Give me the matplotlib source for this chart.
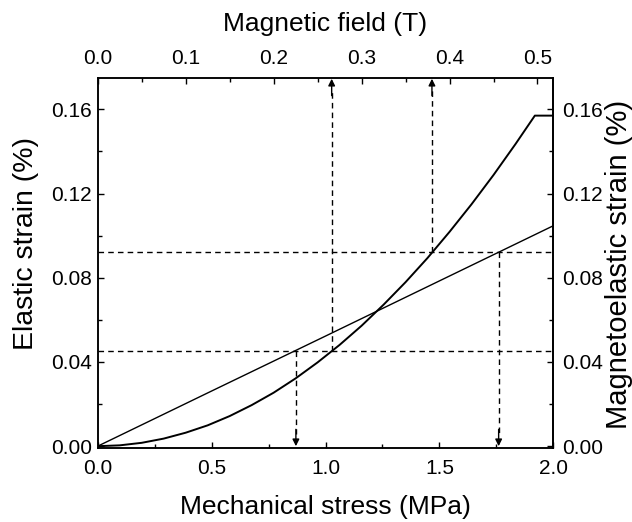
import matplotlib
matplotlib.use("Agg")
import matplotlib.pyplot as plt
from matplotlib.ticker import MultipleLocator, FormatStrFormatter

# elastic strain vs mechanical stress (straight line)
stress = [0.0, 0.5, 1.0, 1.5, 2.0]
elastic = [0.0, 0.0262, 0.0523, 0.0785, 0.1047]

# magnetoelastic strain vs magnetic field
field = [0.0, 0.025, 0.05, 0.075, 0.1, 0.125, 0.15, 0.175, 0.2, 0.225, 0.25,
         0.275, 0.3, 0.325, 0.35, 0.375, 0.4, 0.425, 0.45, 0.475, 0.497, 0.518]
magneto = [0.0, 0.0004, 0.0016, 0.0036, 0.0064, 0.0099, 0.0143, 0.0195, 0.0254,
           0.0322, 0.0398, 0.0481, 0.0572, 0.0672, 0.0779, 0.0894, 0.1018,
           0.1149, 0.1288, 0.1435, 0.157, 0.157]

# guide lines
levels = [0.045, 0.092]
stress_marks = [0.87, 1.76]
field_marks = [0.266, 0.380]

plt.rcParams["font.family"] = ["Liberation Sans", "DejaVu Sans"]

fig = plt.figure(figsize=(6.32, 5.22), dpi=100)
ax = fig.add_axes([0.1546, 0.1412, 0.7209, 0.7099])
ax.plot(stress, elastic, color="black", lw=1.0)
ax.set_xlim(0, 2.0)
ymax = 0.175
ax.set_ylim(-0.001, ymax)

dash = (0, (4, 3))
for lv in levels:
    ax.axhline(lv, color="black", lw=1.0, ls=dash)
for s, lv in zip(stress_marks, levels):
    ax.plot([s, s], [lv, 0.006], color="black", lw=1.0, ls=dash)
    ax.annotate("", xy=(s, 0.0), xytext=(s, 0.008),
                arrowprops=dict(arrowstyle="-|>", color="black", lw=1.0,
                                mutation_scale=10, shrinkA=0, shrinkB=0))

ax2 = ax.twiny()
ax2.plot(field, magneto, color="black", lw=1.4)
ax2.set_xlim(0, 0.518)
for b, lv in zip(field_marks, levels):
    ax2.plot([b, b], [lv, ymax - 0.006], color="black", lw=1.0, ls=dash)
    ax2.annotate("", xy=(b, ymax - 0.0005), xytext=(b, ymax - 0.0085),
                 arrowprops=dict(arrowstyle="-|>", color="black", lw=1.0,
                                 mutation_scale=10, shrinkA=0, shrinkB=0))

ax.xaxis.set_major_locator(MultipleLocator(0.5))
ax.xaxis.set_minor_locator(MultipleLocator(0.25))
ax.xaxis.set_major_formatter(FormatStrFormatter("%.1f"))
ax.yaxis.set_major_locator(MultipleLocator(0.04))
ax.yaxis.set_minor_locator(MultipleLocator(0.02))
ax.yaxis.set_major_formatter(FormatStrFormatter("%.2f"))
ax2.xaxis.set_major_locator(MultipleLocator(0.1))
ax2.xaxis.set_minor_locator(MultipleLocator(0.05))
ax2.xaxis.set_major_formatter(FormatStrFormatter("%.1f"))

ax3 = ax.secondary_yaxis("right")
ax3.yaxis.set_major_locator(MultipleLocator(0.04))
ax3.yaxis.set_minor_locator(MultipleLocator(0.02))
ax3.yaxis.set_major_formatter(FormatStrFormatter("%.2f"))
ax3.xaxis.set_visible(False)

for a in (ax, ax2, ax3):
    a.tick_params(which="major", direction="in", length=4.5, width=1.0, labelsize=15)
    a.tick_params(which="minor", direction="in", length=3, width=1.0)
ax.tick_params(axis="x", pad=8)
ax.tick_params(axis="y", pad=4)
ax2.tick_params(axis="x", pad=7)
ax3.tick_params(axis="y", pad=6)
for a in (ax, ax2):
    for sp in a.spines.values():
        sp.set_linewidth(1.1)
ax3.spines["right"].set_linewidth(1.1)

ax.set_xlabel("Mechanical stress (MPa)", fontsize=19, labelpad=12)
ax.set_ylabel("Elastic strain (%)", fontsize=20.5, labelpad=9)
ax.yaxis.label.set_y(0.553)
ax2.set_xlabel("Magnetic field (T)", fontsize=19, labelpad=13)
ax3.set_ylabel("Magnetoelastic strain (%)", fontsize=21, labelpad=2)
ax3.yaxis.label.set_y(0.495)

fig.savefig("out.png", dpi=100)
